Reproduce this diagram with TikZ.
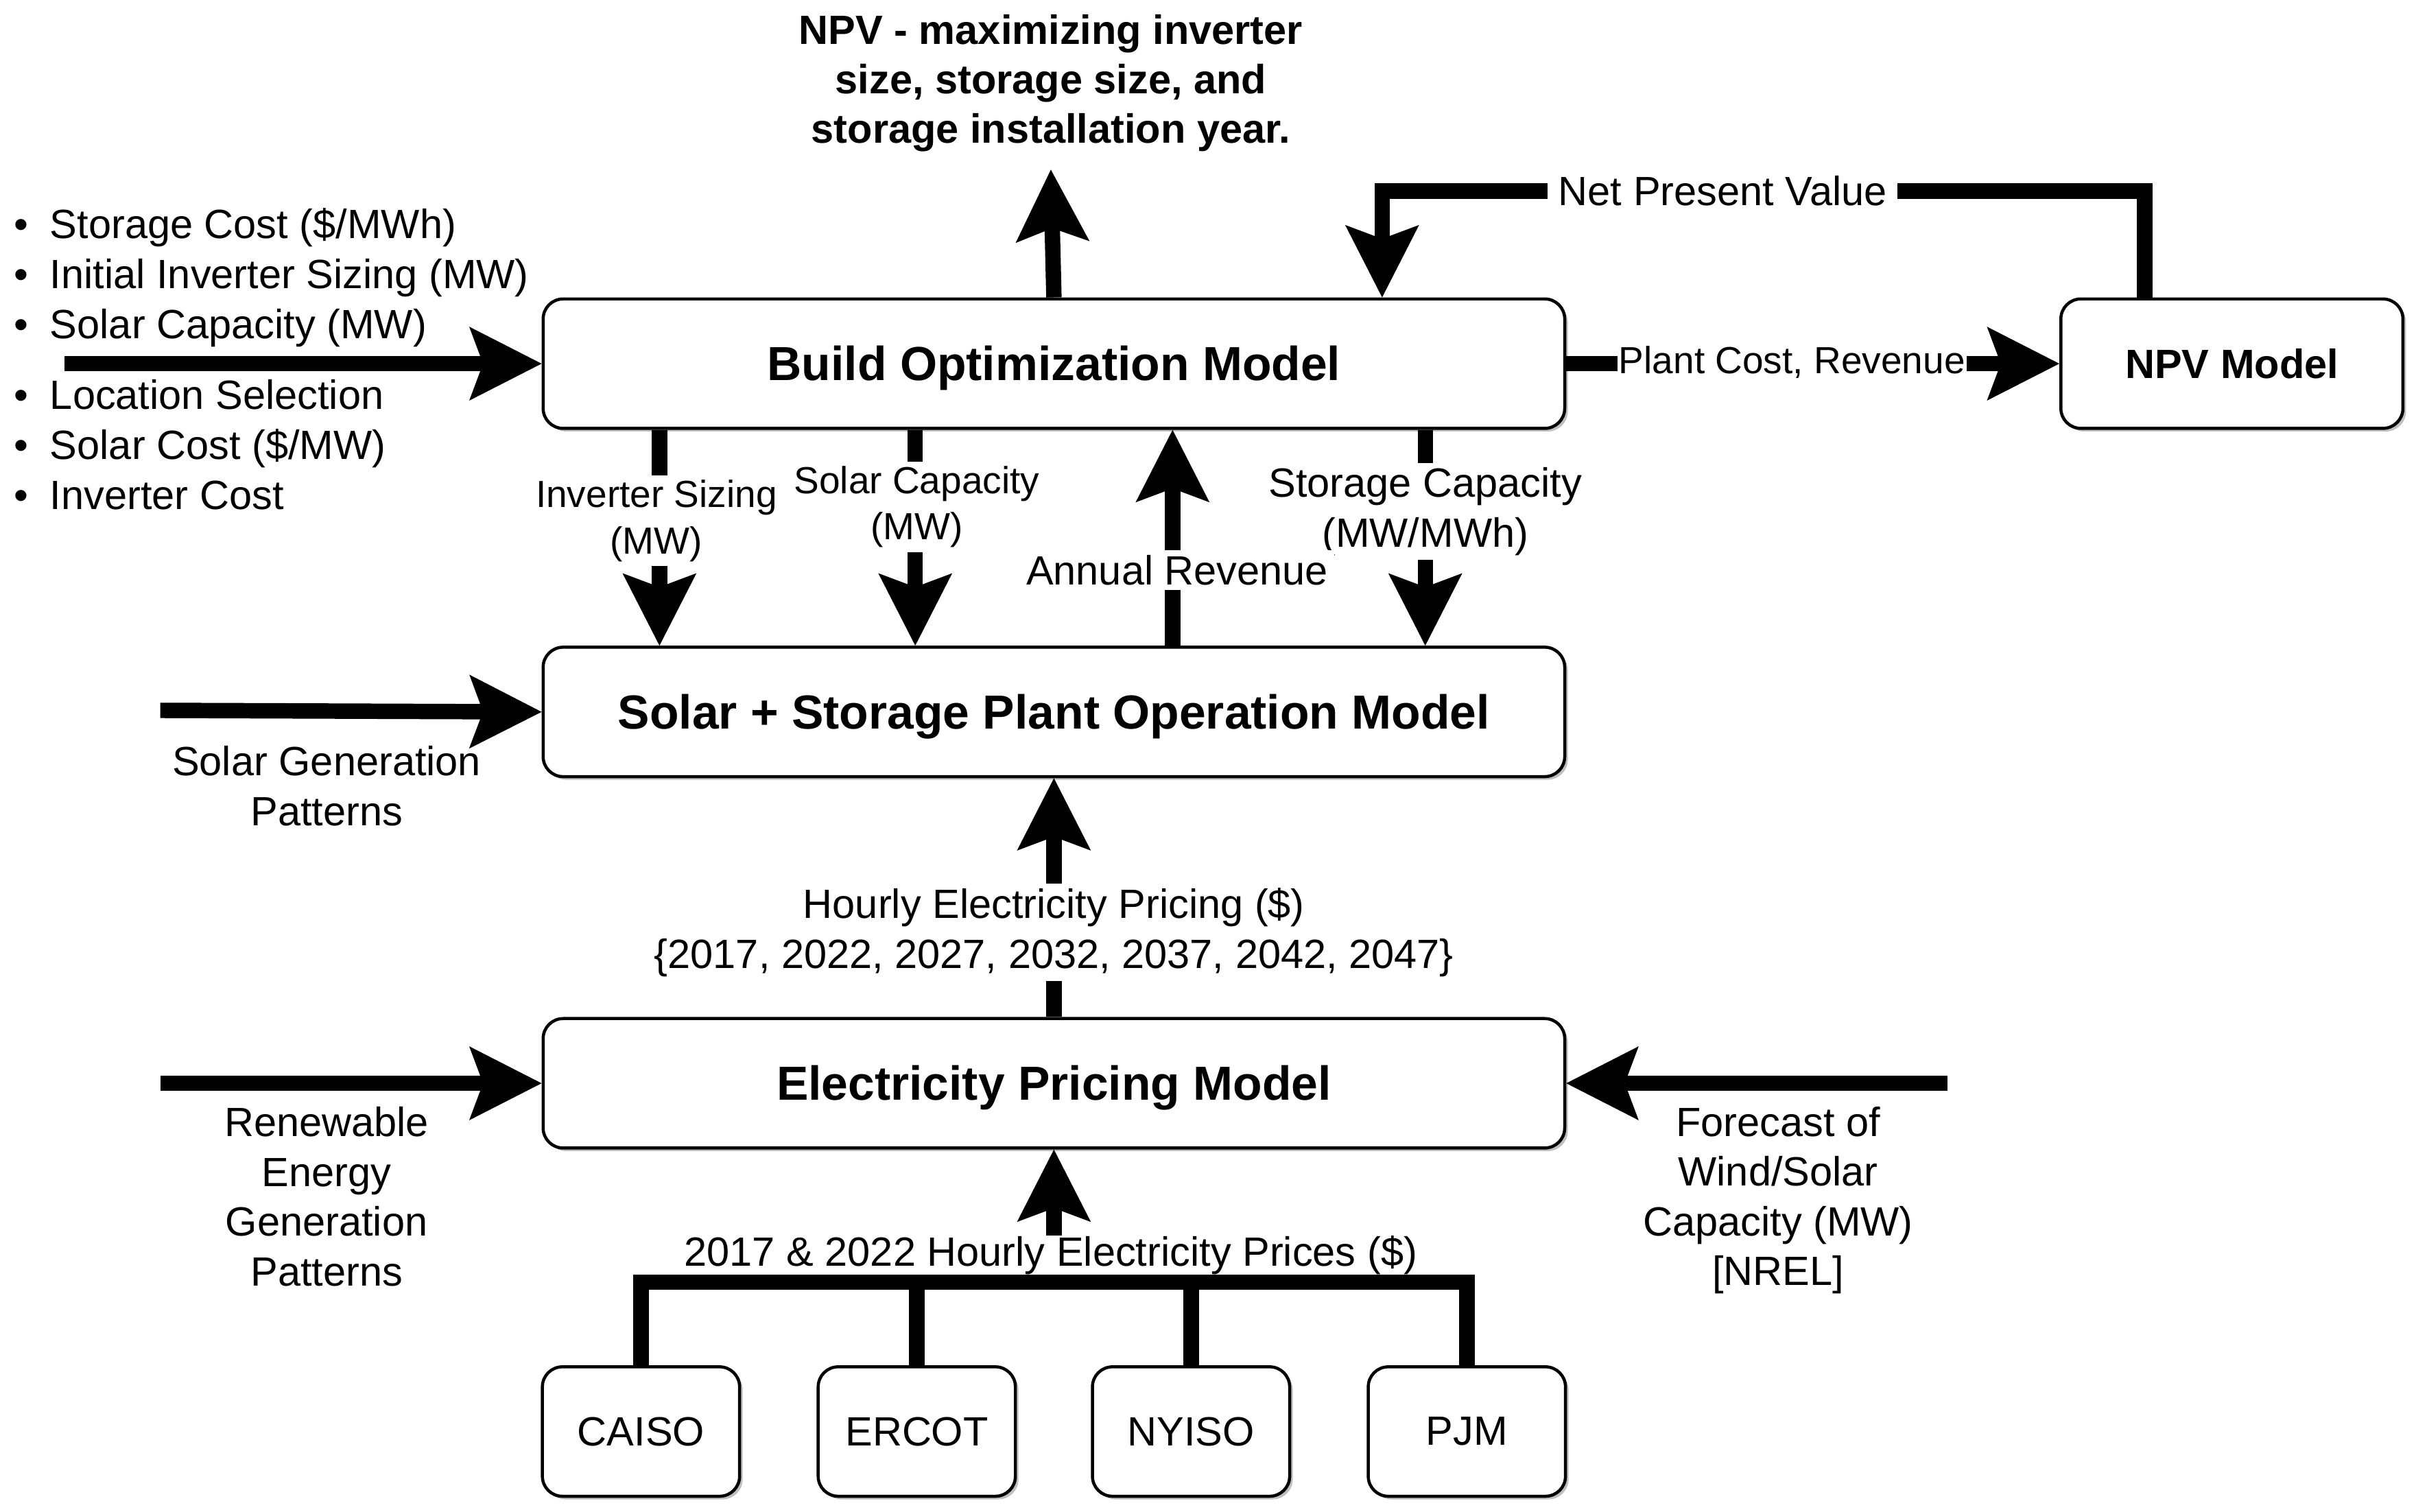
\documentclass[tikz,border=0pt]{standalone}
\usepackage{fontspec}
\setmainfont{Liberation Sans}
\usetikzlibrary{arrows.meta,shadows}

\tikzset{
  model/.style={draw, line width=2pt, rounded corners=13pt, fill=white, inner sep=0pt,
    minimum height=84pt, font=\bfseries\fontsize{31}{37}\selectfont,
    drop shadow={shadow xshift=2pt, shadow yshift=-2pt, opacity=0.25, fill=black}},
  widebox/.style={model, minimum width=663pt, text height=24pt, text depth=2pt},
  iso/.style={model, minimum width=128pt, font=\fontsize{26.5}{32}\selectfont},
  flow/.style={line width=10pt, -{Stealth[length=47pt, width=48pt, inset=9pt, line width=0pt]}},
  bar/.style={line width=10pt},
  note/.style={align=center, inner sep=0pt, font=\fontsize{26.5}{32.3}\selectfont},
  lab/.style={note, fill=white, inner xsep=4pt, inner ysep=3pt},
  smalllab/.style={lab, font=\fontsize{24.5}{30}\selectfont}
}

\begin{document}
\begin{tikzpicture}[x=1pt,y=-1pt]
\useasboundingbox (0,0) rectangle (1568,981);

\node (bom) at (684,236) [widebox] {Build Optimization Model};
\node (ssp) at (684,462) [widebox] {Solar + Storage Plant Operation Model};
\node (epm) at (684,703) [widebox] {Electricity Pricing Model};
\node (npv) at (1448.5,236) [model, minimum width=222pt, font=\bfseries\fontsize{26.5}{32}\selectfont] {NPV Model};

\node (caiso) at (416,929) [iso] {CAISO};
\node (ercot) at (595,929) [iso] {ERCOT};
\node (nyiso) at (773,929) [iso] {NYISO};
\node (pjm) at (952,929) [iso] {PJM};

\node (goal) at (682,54) [note, inner ysep=11.5pt, font=\bfseries\fontsize{26.5}{32}\selectfont] {NPV - maximizing inverter\\size, storage size, and\\storage installation year.};

\node (costsa) at (9,180.5) [anchor=west, inner sep=0pt, font=\fontsize{26.5}{32.5}\selectfont] {
\begin{tabular}{@{}l@{\hspace{14pt}}l@{}}
\textbullet & Storage Cost (\$/MWh) \\
\textbullet & Initial Inverter Sizing (MW) \\
\textbullet & Solar Capacity (MW)
\end{tabular}
};
\node (costsb) at (9,291.5) [anchor=west, inner sep=0pt, font=\fontsize{26.5}{32.5}\selectfont] {
\begin{tabular}{@{}l@{\hspace{14pt}}l@{}}
\textbullet & Location Selection \\
\textbullet & Solar Cost (\$/MW) \\
\textbullet & Inverter Cost
\end{tabular}
};

\coordinate (bomin) at (42,236);
\coordinate (sspin) at (104,461);
\coordinate (epmin) at (104,703);
\coordinate (fcin) at (1264,703);
\coordinate (nvright) at (1392,124);
\coordinate (nvleft) at (897,124);
\coordinate (bus) at (684,832);

\draw [flow] (bomin) -- (bom.west);
\draw [flow] (sspin) -- (ssp.west);
\draw [flow] (epmin) -- (epm.west);
\draw [flow] (fcin) -- (epm.east);

\draw [flow] (bom.north) -- (goal.south);
\draw [flow] (bom.east) -- (npv.west);
\draw [flow] (npv.north -| nvright) -- (nvright) -- (nvleft) -- (bom.north -| nvleft);

\draw [flow] ([xshift=-256pt]bom.south) -- ([xshift=-256pt]ssp.north);
\draw [flow] ([xshift=-90pt]bom.south) -- ([xshift=-90pt]ssp.north);
\draw [flow] ([xshift=241pt]bom.south) -- ([xshift=241pt]ssp.north);
\draw [flow] ([xshift=77pt]ssp.north) -- ([xshift=77pt]bom.south);

\draw [flow] (epm.north) -- (ssp.south);

\draw [bar] (caiso.north) -- (caiso.north |- bus) -- (pjm.north |- bus) -- (pjm.north);
\draw [bar] (ercot.north) -- (ercot.north |- bus);
\draw [bar] (nyiso.north) -- (nyiso.north |- bus);
\draw [flow] (bus) -- (epm.south);

\node (nvlab) at (1118,124) [lab, inner xsep=7pt] {Net Present Value};
\node (pclab) at (1163,235) [smalllab, inner xsep=1pt] {Plant Cost, Revenue};
\node (invsz) at (426,338) [smalllab] {Inverter Sizing\\(MW)};
\node (solcap) at (595,329) [smalllab] {Solar Capacity\\(MW)};
\node (stocap) at (925,332) [lab] {Storage Capacity\\(MW/MWh)};
\node (anrev) at (764,370) [lab] {Annual Revenue};
\node (hep) at (684,605) [lab] {Hourly Electricity Pricing (\$)\\\{2017, 2022, 2027, 2032, 2037, 2042, 2047\}};
\node (hist) at (682,814.5) [lab, inner xsep=1pt, inner ysep=0pt] {2017 \& 2022 Hourly Electricity Prices (\$)};

\node (sgp) at (212,510) [note] {Solar Generation\\Patterns};
\node (regp) at (212,776.5) [note] {Renewable\\Energy\\Generation\\Patterns};
\node (fcw) at (1154,779) [note] {Forecast of\\Wind/Solar\\Capacity (MW)\\{[NREL]}};
\end{tikzpicture}
\end{document}
